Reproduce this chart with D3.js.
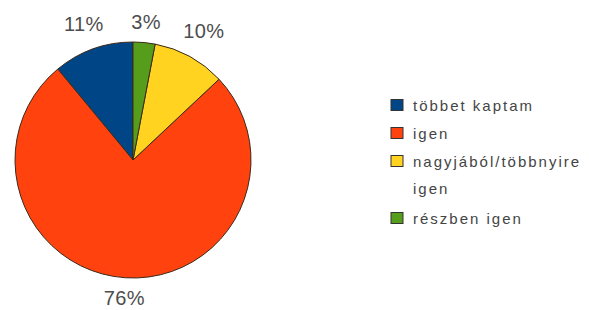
<!DOCTYPE html>
<html><head><meta charset="utf-8">
<script src="https://cdn.jsdelivr.net/npm/d3@7"></script>
<style>body{margin:0;background:#fff}svg{display:block}</style>
</head><body>
<script>
const categories = ["többet kaptam", "igen", "nagyjából/többnyire igen", "részben igen"];
const legendLines = [["többet kaptam"], ["igen"], ["nagyjából/többnyire", "igen"], ["részben igen"]];
const values = [11, 76, 10, 3];
const labels = ["11%", "76%", "10%", "3%"];
const colors = ["#004586", "#ff420e", "#ffd320", "#579d1c"];

const W = 589, H = 310, cx = 133, cy = 160, R = 118;
const svg = d3.select("body").append("svg").attr("width", W).attr("height", H);
const g = svg.append("g").attr("transform", `translate(${cx},${cy})`);

// counter-clockwise from 12 o'clock
const pie = d3.pie().sort(null).value(d => d).startAngle(0).endAngle(-2 * Math.PI);
const arcs = pie(values);
const arc = d3.arc().innerRadius(0).outerRadius(R);
g.selectAll("path").data(arcs).join("path")
  .attr("d", arc)
  .attr("fill", (d, i) => colors[i])
  .attr("stroke", "#3a2a1a").attr("stroke-width", 1).attr("stroke-linejoin", "round");

const labelR = [145, 138, 147, 139];
g.selectAll("text.lbl").data(arcs).join("text").attr("class", "lbl")
  .attr("x", (d, i) => Math.sin((d.startAngle + d.endAngle) / 2) * labelR[i])
  .attr("y", (d, i) => -Math.cos((d.startAngle + d.endAngle) / 2) * labelR[i])
  .attr("text-anchor", "middle").attr("dominant-baseline", "central")
  .attr("font-family", "Liberation Sans, Arial, sans-serif").attr("font-size", 20)
  .attr("letter-spacing", 0.4)
  .attr("fill", "#4d4d4d")
  .text((d, i) => labels[i]);

// legend
const rowY = [105, 133, 161, 218];
const lg = svg.append("g");
categories.forEach((c, i) => {
  const y = rowY[i];
  lg.append("rect").attr("x", 391).attr("y", y - 5.5).attr("width", 12).attr("height", 11)
    .attr("fill", colors[i]).attr("stroke", "#333").attr("stroke-width", 1);
  legendLines[i].forEach((t, j) => {
    lg.append("text").attr("x", 413).attr("y", y + j * 27)
      .attr("dominant-baseline", "central")
      .attr("font-family", "Liberation Sans, Arial, sans-serif").attr("font-size", 15)
      .attr("letter-spacing", 2)
      .attr("fill", "#444").text(t);
  });
});
</script>
</body></html>
